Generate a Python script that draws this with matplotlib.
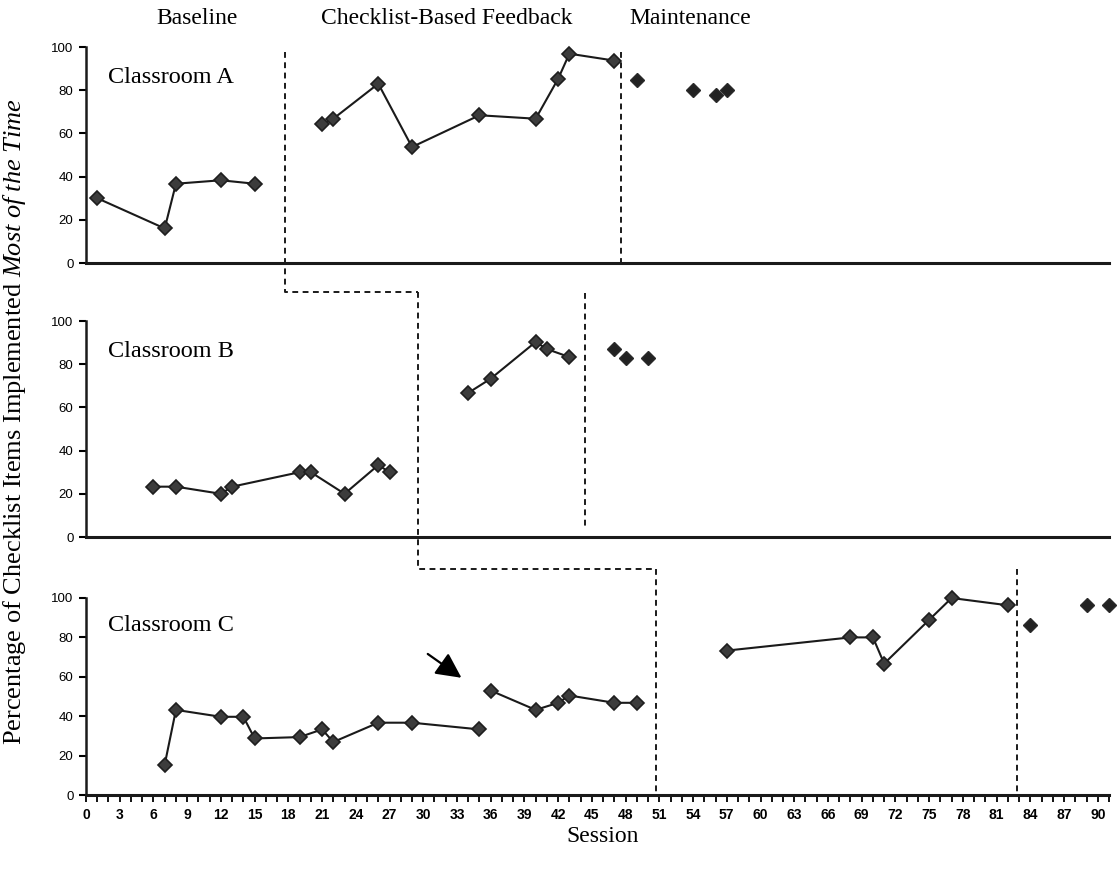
import matplotlib
matplotlib.use("Agg")
import matplotlib.pyplot as plt

plt.rcParams['font.family'] = ['Liberation Serif', 'DejaVu Serif']
plt.rcParams['mathtext.fontset'] = 'custom'
plt.rcParams['mathtext.rm'] = 'Liberation Serif'
plt.rcParams['mathtext.it'] = 'Liberation Serif:italic'

# Classroom A
a_base_x = [1, 7, 8, 12, 15]
a_base_y = [30, 16, 36.7, 38.3, 36.7]
a_fb_x = [21, 22, 26, 29, 35, 40, 42, 43, 47]
a_fb_y = [64.2, 66.8, 83, 53.7, 68.4, 66.8, 85.3, 96.9, 93.7]
a_mt_x = [49, 54, 56, 57]
a_mt_y = [84.9, 79.9, 78, 79.9]

# Classroom B
b_base_x = [6, 8, 12, 13, 19, 20, 23, 26, 27]
b_base_y = [23.3, 23.3, 20, 23.3, 30, 30, 20, 33.3, 30]
b_fb_x = [34, 36, 40, 41, 43]
b_fb_y = [66.7, 73.3, 90.3, 87, 83.3]
b_mt_x = [47, 48, 50]
b_mt_y = [86.9, 83.1, 83.1]

# Classroom C (baseline split in two runs)
c_base1_x = [7, 8, 12, 14, 15, 19, 21, 22, 26, 29, 35]
c_base1_y = [15.4, 43.2, 39.7, 39.7, 28.7, 29.4, 33.3, 26.9, 36.7, 36.7, 33.3]
c_base2_x = [36, 40, 42, 43, 47, 49]
c_base2_y = [53, 43.2, 46.8, 50.5, 46.8, 46.8]
c_fb_x = [57, 68, 70, 71, 75, 77, 82]
c_fb_y = [73.3, 80, 80, 66.7, 88.9, 100, 96.3]
c_mt_x = [84, 89, 91]
c_mt_y = [86.5, 96.3, 96.3]

# phase change lines (session)
a_phase = [17.7, 47.6]
b_phase = [29.5, 44.4]
c_phase = [50.7, 82.8]

phase_titles = ["Baseline", "Checklist-Based Feedback", "Maintenance"]
yticks = [0, 20, 40, 60, 80, 100]
xticks = list(range(0, 91, 3))

fig = plt.figure(figsize=(11.19, 8.71), dpi=100)
W, H = 1119, 871
left = 86 / W
width = (1109 - 86) / W
axA = fig.add_axes([left, (H - 263) / H, width, 216 / H])
axB = fig.add_axes([left, (H - 537) / H, width, 216 / H])
axC = fig.add_axes([left, (H - 795) / H, width, 197 / H])

line_kw = dict(color='#1a1a1a', lw=1.5, marker='D', markersize=7.5,
               markerfacecolor='#3c3c3c', markeredgecolor='#1e1e1e',
               markeredgewidth=1.2, clip_on=False)
dot_kw = dict(ls='none', marker='D', markersize=7.5,
              markerfacecolor='#222222', markeredgecolor='#2a2a2a',
              markeredgewidth=1, clip_on=False)
dash_kw = dict(color='#1a1a1a', lw=1.4, ls=(0, (3, 2.3)), clip_on=False)


def setup(ax, name, bottom=False):
    ax.set_xlim(0, 91)
    ax.set_ylim(0, 100)
    for s in ['top', 'right']:
        ax.spines[s].set_visible(False)
    ax.spines['left'].set_linewidth(1.8)
    ax.spines['bottom'].set_linewidth(2.2)
    ax.spines['left'].set_color('#1a1a1a')
    ax.spines['bottom'].set_color('#1a1a1a')
    ax.set_yticks(yticks)
    ax.tick_params(axis='y', length=5, width=1.5, pad=4, labelsize=9.5,
                   labelfontfamily='Liberation Sans')
    if bottom:
        ax.set_xticks(xticks)
        ax.set_xticks(range(0, 92), minor=True)
        ax.tick_params(axis='x', which='both', direction='out', length=5, width=1.3,
                       pad=4, labelsize=10)
        for lab in ax.get_xticklabels():
            lab.set_fontfamily('Liberation Sans')
            lab.set_fontweight('bold')
    else:
        ax.set_xticks([])
    ax.text(0.0215, 0.86, name, transform=ax.transAxes, fontsize=17.5,
            ha='left', va='center')


setup(axA, "Classroom A")
setup(axB, "Classroom B")
setup(axC, "Classroom C", bottom=True)

axA.plot(a_base_x, a_base_y, **line_kw)
axA.plot(a_fb_x, a_fb_y, **line_kw)
axA.plot(a_mt_x, a_mt_y, **dot_kw)

axB.plot(b_base_x, b_base_y, **line_kw)
axB.plot(b_fb_x, b_fb_y, **line_kw)
axB.plot(b_mt_x, b_mt_y, **dot_kw)

axC.plot(c_base1_x, c_base1_y, **line_kw)
axC.plot(c_base2_x, c_base2_y, **line_kw)
axC.plot(c_fb_x, c_fb_y, **line_kw)
axC.plot(c_mt_x, c_mt_y, **dot_kw)

# staggered phase lines
axA.plot([a_phase[0], a_phase[0], b_phase[0]], [97.5, -13.4, -13.4], **dash_kw)
axA.plot([a_phase[1], a_phase[1]], [97.5, 0], **dash_kw)
axB.plot([b_phase[0], b_phase[0], c_phase[0]], [113.4, -14.8, -14.8], **dash_kw)
axB.plot([b_phase[1], b_phase[1]], [113, 4], **dash_kw)
axC.plot([c_phase[0], c_phase[0]], [114.7, 0], **dash_kw)
axC.plot([c_phase[1], c_phase[1]], [114.7, 0], **dash_kw)

# arrow marking the gap in classroom C baseline
axC.annotate("", xy=(33.4, 59.5), xytext=(30.4, 71.6),
             arrowprops=dict(arrowstyle='-|>,head_length=1.1,head_width=0.55',
                             mutation_scale=14, shrinkA=0, shrinkB=0,
                             color='black', lw=1.6))

title_x = [197, 447, 690]
for t, x in zip(phase_titles, title_x):
    fig.text(x / W, 1 - 18 / H, t, fontsize=17, ha='center', va='center')

fig.text(15 / W, 1 - 422 / H,
         r"Percentage of Checklist Items Implemented $\mathit{Most\ of\ the\ Time}$",
         rotation=90, fontsize=19, ha='center', va='center')
fig.text(603 / W, 1 - 836 / H, "Session", fontsize=17, ha='center', va='center')

fig.savefig("out.png", dpi=100)
